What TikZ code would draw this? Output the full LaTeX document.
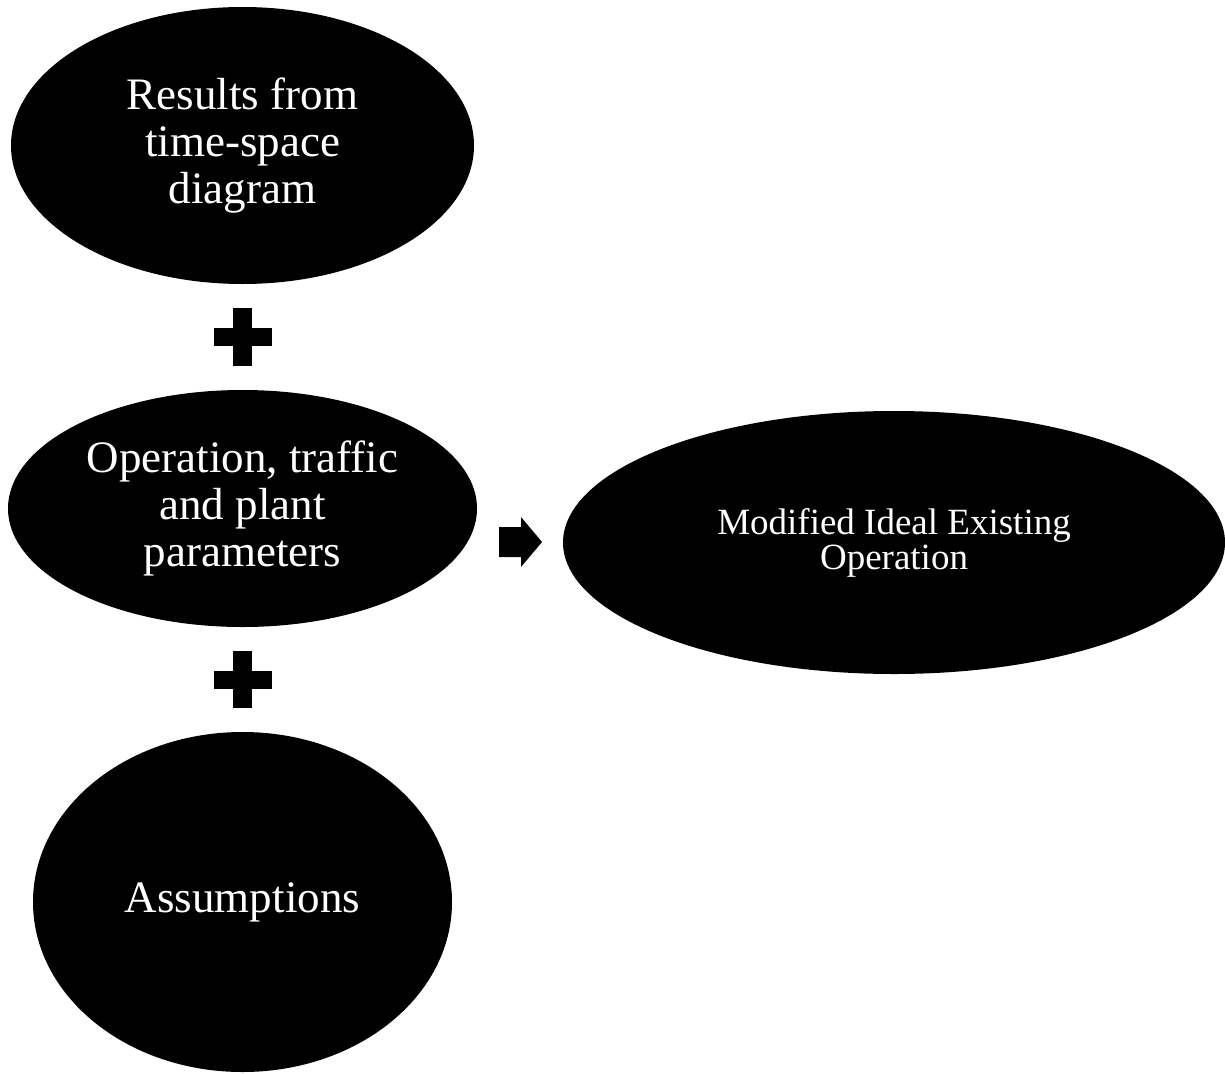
\documentclass[tikz,border=0pt]{standalone}
\usepackage{fontspec}
\setmainfont{Liberation Serif}
\usetikzlibrary{shapes.geometric}
\tikzset{
  blob/.style={ellipse, fill=black, draw=none, text=white, align=center, inner sep=0pt},
  bigtext/.style={font=\fontsize{45}{47}\selectfont},
  smalltext/.style={font=\fontsize{37}{35}\selectfont},
  symb/.style={fill=black}
}
\begin{document}
\begin{tikzpicture}[x=1pt,y=-1pt]
\useasboundingbox (0,0) rectangle (1225,1073);
\node[blob, bigtext, minimum width=463pt, minimum height=277pt] (res) at (242.5,145.5) {Results from\\time-space\\diagram};
\node[blob, bigtext, minimum width=469pt, minimum height=237pt] (op) at (242.5,508.5) {Operation, traffic\\and plant\\parameters};
\node[blob, bigtext, minimum width=419pt, minimum height=340pt] (as) at (242.5,902) {Assumptions};
\node[blob, smalltext, minimum width=662pt, minimum height=263pt] (mod) at (894,542.5) {Modified Ideal Existing\\Operation};
% plus signs
\fill[symb] (233,308) rectangle (252,366);
\fill[symb] (214,328) rectangle (272,346);
\fill[symb] (233,651) rectangle (252,708);
\fill[symb] (214,671) rectangle (272,689);
% block arrow
\fill[symb] (499,527) -- (521,527) -- (521,517) -- (542,542) -- (521,567) -- (521,557) -- (499,557) -- cycle;
\end{tikzpicture}
\end{document}
